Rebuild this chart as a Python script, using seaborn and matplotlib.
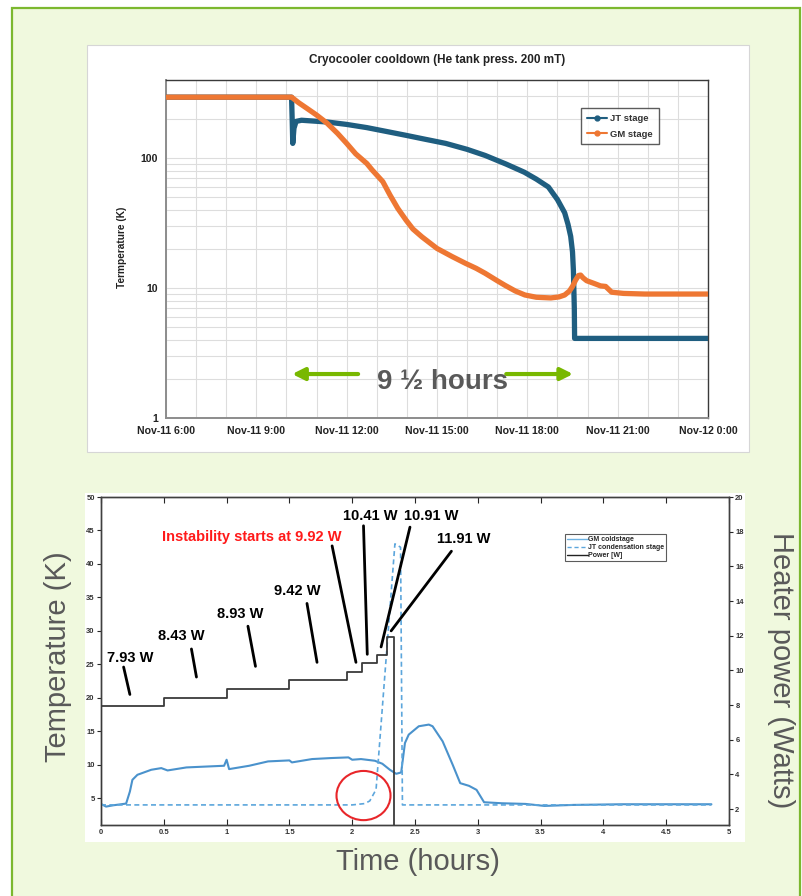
import matplotlib
matplotlib.use("Agg")
import matplotlib.pyplot as plt
import seaborn as sns
import pandas as pd
from matplotlib.patches import Rectangle, Ellipse
from matplotlib.lines import Line2D
from matplotlib.ticker import FixedLocator, NullFormatter

sns.set_style("ticks")
plt.rcParams['font.family'] = ['Liberation Sans', 'DejaVu Sans']

# ---------------- top chart data (hours of Nov-11) ----------------
jt_hours = [6, 10.17, 10.19, 10.21, 10.25, 10.32, 10.5, 11.35, 12.0, 12.67, 13.3, 13.97, 14.6,
            15.29, 16.0, 16.6, 17.3, 17.9, 18.3, 18.7, 19.0, 19.24, 19.35, 19.44, 19.5,
            19.53, 19.56, 19.57, 24]
jt_temp = [295, 295, 200, 130, 170, 192, 196, 190, 182, 172, 161, 150, 140,
           130, 117, 105, 90, 78, 69, 60, 48, 38, 31, 25, 19,
           13.7, 7.0, 4.1, 4.1]
gm_hours = [6, 10.17, 10.4, 10.68, 11.0, 11.35, 11.7, 12.0, 12.3, 12.67, 12.85, 13.2, 13.44,
            13.7, 13.97, 14.2, 14.5, 15.0, 15.5, 15.95, 16.3, 16.6, 17.0, 17.26, 17.6, 17.92,
            18.3, 18.78, 19.05, 19.24, 19.4, 19.5, 19.6, 19.7, 19.77, 19.85, 19.97, 20.2,
            20.43, 20.6, 20.8, 21.2, 21.9, 24]
gm_temp = [295, 295, 268, 242, 215, 186, 155, 130, 108, 91, 81, 66, 52,
           41, 33.4, 28.5, 24.8, 20.2, 17.5, 15.5, 14.2, 13.0, 11.4, 10.5, 9.5, 8.85,
           8.5, 8.4, 8.55, 8.85, 9.5, 10.3, 11.5, 12.5, 12.6, 12.0, 11.4, 10.9,
           10.4, 10.3, 9.3, 9.1, 9.0, 9.0]
top_xticks = [6, 9, 12, 15, 18, 21, 24]
top_xlabels = ["Nov-11 6:00", "Nov-11 9:00", "Nov-11 12:00", "Nov-11 15:00",
               "Nov-11 18:00", "Nov-11 21:00", "Nov-12 0:00"]
top_yticks = [1, 10, 100]
top_ylabels = ["1", "10", "100"]

# ---------------- bottom chart data (hours) ----------------
gmc_t = [0, 0.04, 0.1, 0.18, 0.2, 0.23, 0.25, 0.29, 0.4, 0.48, 0.53, 0.68, 0.98, 1.0, 1.02,
         1.18, 1.33, 1.5, 1.52, 1.68, 1.83, 1.97, 2.0, 2.07, 2.18, 2.24, 2.3, 2.35,
         2.39, 2.42, 2.45, 2.53, 2.61, 2.64, 2.72, 2.8, 2.86, 2.93, 2.99, 3.05, 3.19,
         3.38, 3.53, 3.76, 4.15, 4.86]
gmc_K = [4.15, 3.75, 3.95, 4.15, 4.2, 6.0, 7.75, 8.5, 9.25, 9.5, 9.15, 9.6, 9.85, 10.75, 9.35,
         9.85, 10.5, 10.65, 10.35, 10.85, 11.0, 11.1, 10.75, 10.85, 10.6, 10.15, 9.25, 8.65,
         8.85, 13.25, 14.5, 15.75, 16.0, 15.75, 13.5, 10.0, 7.25, 6.85, 6.25, 4.4, 4.25,
         4.15, 3.85, 4.0, 4.1, 4.1]
jtc_t = [0, 2.0, 2.05, 2.1, 2.14, 2.19, 2.34, 2.385, 2.40, 4.86]
jtc_K = [4.0, 4.0, 4.1, 4.2, 4.6, 6.3, 43.0, 42.5, 4.0, 4.0]
pow_t = [0, 0, 0.5, 1.0, 1.5, 1.96, 2.08, 2.20, 2.28, 2.33, 4.86]
pow_W = [0, 7.93, 8.43, 8.93, 9.42, 9.92, 10.41, 10.91, 11.91, 0, 0]

ann_text = ["7.93 W", "8.43 W", "8.93 W", "9.42 W", "Instability starts at 9.92 W",
            "10.41 W", "10.91 W", "11.91 W"]
ann_color = ["black"] * 4 + ["#FF1A1A"] + ["black"] * 3
ann_text_xy = [(0.23, 26.0), (0.64, 29.2), (1.11, 32.5), (1.56, 36.0), (1.20, 44.0),
               (2.14, 47.2), (2.63, 47.2), (2.89, 43.7)]
ann_line_from = [(0.18, 24.6), (0.72, 27.3), (1.17, 30.7), (1.64, 34.1), (1.84, 42.7),
                 (2.09, 45.7), (2.46, 45.5), (2.79, 41.9)]
ann_line_to = [(0.23, 20.5), (0.76, 23.1), (1.23, 24.7), (1.72, 25.3), (2.03, 25.3),
               (2.12, 26.5), (2.23, 27.6), (2.31, 30.0)]

W, H = 802, 896
fig = plt.figure(figsize=(W / 100, H / 100), dpi=100)
fig.patch.set_facecolor("white")


def fx(x):
    return x / W


def fy(y):
    return 1 - y / H


# background panels
fig.add_artist(Rectangle((fx(12), -0.01), fx(800) - fx(12), fy(8) + 0.01, transform=fig.transFigure,
                         facecolor="#F0F9DE", edgecolor="#7CB82F", lw=1.6, zorder=-10))
fig.add_artist(Rectangle((fx(87), fy(452)), fx(749) - fx(87), fy(45) - fy(452), transform=fig.transFigure,
                         facecolor="white", edgecolor="#D6D6D6", lw=0.8, zorder=-9))
fig.add_artist(Rectangle((fx(85), fy(842)), fx(745) - fx(85), fy(493) - fy(842), transform=fig.transFigure,
                         facecolor="white", edgecolor="none", zorder=-9))

# ---------------- top chart ----------------
ax = fig.add_axes([fx(166), fy(418), fx(708) - fx(166), fy(80) - fy(418)])
ax.set_facecolor("white")
jt_col = "#1F5E80"
gm_col = "#EE7733"
sns.lineplot(x=jt_hours, y=jt_temp, ax=ax, color=jt_col, lw=3.8, estimator=None, sort=False,
             legend=False, zorder=3)
sns.lineplot(x=gm_hours, y=gm_temp, ax=ax, color=gm_col, lw=3.8, estimator=None, sort=False,
             legend=False, zorder=4)
ax.set_yscale("log")
ax.set_ylim(1, 400)
ax.set_xlim(6, 24)
ax.set_xticks(top_xticks)
ax.set_xticklabels(top_xlabels, fontsize=7.6, fontweight="bold", color="#222222")
ax.xaxis.set_minor_locator(FixedLocator(list(range(6, 25))))
ax.set_yticks(top_yticks)
ax.set_yticklabels(top_ylabels, fontsize=7.6, fontweight="bold", color="#222222")
ax.yaxis.set_minor_locator(FixedLocator([m * d for d in (1, 10, 100) for m in range(2, 10)]))
ax.yaxis.set_minor_formatter(NullFormatter())
ax.grid(True, which="both", color="#DDDDDD", lw=0.8)
ax.tick_params(which="both", length=0, pad=6)
ax.set_xlabel("")
ax.set_ylabel("")
for s in ("left", "bottom"):
    ax.spines[s].set_color("#8C8C8C")
    ax.spines[s].set_linewidth(1.4)
for s in ("top", "right"):
    ax.spines[s].set_color("#3A3A3A")
    ax.spines[s].set_linewidth(1.0)
ax.set_title("Cryocooler cooldown (He tank press. 200 mT)", fontsize=8.5, fontweight="bold",
             color="#222222", pad=12)
handles = [Line2D([], [], color=jt_col, lw=1.5, marker="o", markersize=3.5),
           Line2D([], [], color=gm_col, lw=1.5, marker="o", markersize=3.5)]
leg = ax.legend(handles, ["JT stage", "GM stage"], loc="upper left", bbox_to_anchor=(0.757, 0.93),
                fontsize=6.8, frameon=True, fancybox=False, edgecolor="#333333", handlelength=2.2,
                borderpad=0.6, labelspacing=0.7, handletextpad=0.3)
leg.get_frame().set_linewidth(1.0)
for t in leg.get_texts():
    t.set_fontweight("bold")
    t.set_color("#333333")
fig.text(fx(122), fy(247), "Termperature (K)", rotation=90, ha="center", va="center",
         fontsize=7.3, fontweight="bold", color="#222222")
green = "#78B800"
ax.annotate("", xy=(10.19, 2.18), xytext=(12.38, 2.18),
            arrowprops=dict(arrowstyle="-|>", color=green, lw=3, mutation_scale=18,
                            shrinkA=0, shrinkB=0), zorder=5)
ax.annotate("", xy=(19.52, 2.18), xytext=(17.3, 2.18),
            arrowprops=dict(arrowstyle="-|>", color=green, lw=3, mutation_scale=18,
                            shrinkA=0, shrinkB=0), zorder=5)
ax.text(15.17, 1.9, "9 ½ hours", ha="center", va="center", fontsize=20, fontweight="bold",
        color="#595959", zorder=6)

# ---------------- bottom chart ----------------
bx = fig.add_axes([fx(101), fy(825), fx(729) - fx(101), fy(497) - fy(825)])
bx.set_facecolor("white")
bx2 = bx.twinx()
gmc_col = "#4A92CC"
jtc_col = "#5CA6DC"
sns.lineplot(x=gmc_t, y=gmc_K, ax=bx, color=gmc_col, lw=1.5, estimator=None, sort=False,
             legend=False, zorder=3)
sns.lineplot(x=jtc_t, y=jtc_K, ax=bx, color=jtc_col, lw=1.2, estimator=None, sort=False,
             legend=False, zorder=3, dashes=False, linestyle=(0, (3, 2)))
sns.lineplot(x=pow_t, y=pow_W, ax=bx2, color="#3A3A3A", lw=1.3, estimator=None, sort=False,
             legend=False, drawstyle="steps-post", zorder=3)
bx.set_xlim(0, 5)
bx.set_ylim(1, 50)
bx2.set_ylim(1.08, 20)
bx.set_xticks([i * 0.5 for i in range(11)])
bx.set_xticklabels(["0", "0.5", "1", "1.5", "2", "2.5", "3", "3.5", "4", "4.5", "5"],
                   fontsize=5.5, fontweight="bold", color="#333333")
bx.set_yticks(list(range(5, 51, 5)))
bx.set_yticklabels([str(v) for v in range(5, 51, 5)], fontsize=5.5, fontweight="bold", color="#333333")
bx2.set_yticks(list(range(2, 21, 2)))
bx2.set_yticklabels([str(v) for v in range(2, 21, 2)], fontsize=5.5, fontweight="bold", color="#333333")
bx.tick_params(axis="x", direction="in", top=True, length=4, width=0.8, pad=3)
bx.tick_params(axis="y", direction="out", length=3, width=0.8, pad=1.5)
bx2.tick_params(axis="y", direction="out", length=3, width=0.8, pad=1.5)
for a in (bx, bx2):
    a.set_xlabel("")
    a.set_ylabel("")
    for s in a.spines.values():
        s.set_color("#404040")
        s.set_linewidth(1.0)

bx.add_patch(Ellipse((2.09, 5.4), 0.43, 7.35, fill=False, edgecolor="#E8262A", lw=1.5, zorder=6))
for txt, col, txy, p0, p1 in zip(ann_text, ann_color, ann_text_xy, ann_line_from, ann_line_to):
    bx.annotate("", xy=p1, xytext=p0,
                arrowprops=dict(arrowstyle="-", color="black", lw=2.0, shrinkA=0, shrinkB=0), zorder=6)
    bx.text(txy[0], txy[1], txt, ha="center", va="center", fontsize=10.5, fontweight="bold",
            color=col, zorder=7)

lh = [Line2D([], [], color="#6DB2E2", lw=1.0),
      Line2D([], [], color=jtc_col, lw=1.0, linestyle=(0, (3, 2))),
      Line2D([], [], color="#222222", lw=1.0)]
leg2 = bx2.legend(lh, ["GM coldstage", "JT condensation stage", "Power [W]"], loc="upper left",
                  bbox_to_anchor=(0.739, 0.886), fontsize=5.0, frameon=True, fancybox=False,
                  edgecolor="#333333", handlelength=3.0, borderpad=0.25, labelspacing=0.15,
                  handletextpad=0.1, borderaxespad=0)
leg2.get_frame().set_linewidth(0.8)
for t in leg2.get_texts():
    t.set_fontweight("bold")

fig.text(fx(58), fy(657), "Temperature (K)", rotation=90, ha="center", va="center",
         fontsize=21, color="#595959")
fig.text(fx(781), fy(670), "Heater power (Watts)", rotation=270, ha="center", va="center",
         fontsize=21, color="#595959")
fig.text(fx(418), fy(862), "Time (hours)", ha="center", va="center", fontsize=21, color="#595959")

fig.savefig("out.png", dpi=100, facecolor="white")
